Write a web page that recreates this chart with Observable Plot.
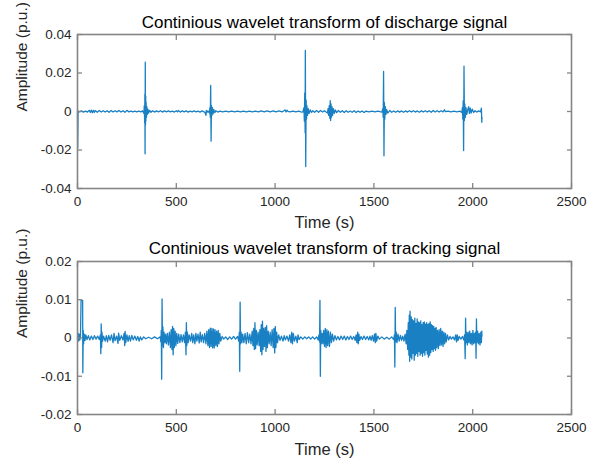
<!DOCTYPE html>
<html><head><meta charset="utf-8">
<script src="https://cdn.jsdelivr.net/npm/d3@7"></script>
<script src="https://cdn.jsdelivr.net/npm/@observablehq/plot@0.6"></script>
<style>
body{margin:0;background:#fff;}
#chart{width:596px;height:459px;}
#chart svg{display:block;}
</style></head><body><div id="chart"></div>
<script>
const timeTicks = [0, 500, 1000, 1500, 2000, 2500];
const timeTickLabels = ["0", "500", "1000", "1500", "2000", "2500"];
const dischargeTicks = [-0.04, -0.02, 0, 0.02, 0.04];
const dischargeTickLabels = ["-0.04", "-0.02", "0", "0.02", "0.04"];
const trackingTicks = [-0.02, -0.01, 0, 0.01, 0.02];
const trackingTickLabels = ["-0.02", "-0.01", "0", "0.01", "0.02"];
const panelTitles = ["Continious wavelet transform of discharge signal", "Continious wavelet transform of tracking signal"];
const xLabel = "Time (s)";
const yLabel = "Amplitude (p.u.)";

// [time (s), amplitude (p.u.)]
const dischargeSignal = [
[0,0],[1,-0.019],[3,0.0003],[10,-0.0002],[20,0.0003],[30,-0.0003],[40,0.0002],[50,-0.0003],[60,0.0006],[65,-0.0005],[70,0.0007],[75,-0.0006],[80,0.0006],[85,-0.0005],[90,0.0005],[100,-0.0004],[110,0.0005],[120,-0.0003],[130,0.0004],[140,-0.0003],[150,0.0004],[160,-0.0004],[170,0.0005],[180,-0.0003],[190,0.0004],[200,-0.0002],[210,0.0005],[220,-0.0003],[230,0.0004],[240,-0.0004],[250,0.0006],[260,-0.0002],[270,0.0002],[280,-0.0002],[290,0.0002],[300,-0.0002],[310,0.0002],[320,-0.0002],[330,0.0003],
[336,-0.001],[338,0.003],[340,-0.006],[341,0.009],[342,-0.022],[343,0.0256],[344,-0.007],[345,0.008],[346,-0.005],[347,0.005],[349,-0.003],[351,0.0025],[353,-0.0015],[356,0.0012],[360,-0.0008],[365,0.0006],[372,-0.0004],[380,0.0004],
[390,-0.0003],[400,0.0003],[410,-0.0002],[420,0.0004],[430,-0.0003],[440,0.0003],[450,-0.0002],[460,0.0003],[470,-0.0002],[480,0.0002],[490,-0.0003],[500,0.0004],[506,-0.0002],[510,0.0005],[520,-0.0003],[530,0.0003],[540,-0.0002],[550,0.0003],[560,-0.0003],[570,0.0002],[580,-0.0002],[590,0.0003],[600,-0.0002],[610,0.0002],[620,-0.0003],[630,0.0003],[640,-0.0002],
[645,-0.0004],[650,-0.002],[652,0.0006],[655,-0.0005],[660,0.0003],[668,-0.0008],[670,0.002],[672,-0.003],[674,0.0135],[676,-0.0154],[678,0.003],[680,-0.002],[683,0.002],[686,-0.0012],[690,0.001],[695,-0.0006],[700,0.0004],
[710,-0.0003],[720,0.0002],[735,-0.0002],[750,0.0002],[765,-0.0002],[780,0.0002],[795,-0.0002],[810,0.0002],[825,-0.0002],[840,0.0002],[855,-0.0002],[870,0.0002],[885,-0.0002],[900,0.0002],[915,-0.0002],[930,0.0003],[945,-0.0002],[960,0.0003],[975,-0.0002],[990,0.0003],[1005,-0.0002],[1020,0.0003],[1035,-0.0002],[1045,0.0004],
[1050,0.0008],[1056,-0.0002],[1060,0.0007],[1065,0.0001],[1075,-0.0002],[1090,0.0002],[1105,-0.0002],[1120,0.0002],[1130,-0.0002],[1140,-0.0003],
[1146,0.002],[1148,-0.005],[1150,0.0097],[1152,-0.011],[1153,0.0317],[1155,-0.0286],[1157,0.006],[1159,-0.004],[1161,0.003],[1164,-0.002],[1168,0.0015],[1172,-0.001],[1178,0.0008],[1185,-0.0005],[1190,0.0004],
[1200,-0.0004],[1210,0.0005],[1220,-0.0004],[1230,0.0005],[1240,-0.0003],[1250,0.0004],[1258,-0.0003],
[1265,-0.0008],[1268,0.0015],[1271,-0.002],[1274,0.003],[1277,-0.0035],[1279,0.0057],[1281,-0.0047],[1283,0.004],[1285,-0.003],[1288,0.0025],[1291,-0.002],[1295,0.0015],[1300,-0.001],[1305,0.0008],[1312,-0.0006],[1320,0.0005],
[1330,-0.0004],[1340,0.0004],[1350,-0.0005],[1360,0.0004],[1370,-0.0004],[1380,0.0003],[1390,-0.0004],[1400,0.0004],[1410,-0.0005],[1420,0.0003],[1430,-0.0004],[1440,0.0003],[1450,-0.0005],[1460,0.0002],[1475,-0.0002],[1490,0.0002],[1505,-0.0002],[1520,0.0002],[1535,-0.0002],[1540,-0.0003],
[1545,0.0015],[1547,-0.003],[1549,0.0208],[1551,-0.023],[1553,0.0047],[1555,-0.004],[1558,0.0025],[1561,-0.0015],[1565,0.001],[1570,-0.0008],[1580,0.0005],
[1590,-0.0004],[1600,0.0003],[1610,-0.0004],[1620,0.0003],[1630,-0.0003],[1640,0.0003],[1650,-0.0004],[1660,0.0003],[1670,-0.0003],[1680,0.0004],[1690,-0.0003],[1700,0.0004],[1710,-0.0003],[1720,0.0003],[1730,-0.0004],[1740,0.0004],[1750,-0.0003],[1760,0.0004],[1770,-0.0003],[1780,0.0004],[1790,-0.0004],[1800,0.0005],[1810,-0.0003],[1820,0.0004],[1830,-0.0003],[1840,0.0004],[1850,-0.0002],[1857,0.0009],[1862,-0.0001],[1875,0.0002],[1890,-0.0002],[1905,0.0002],[1920,-0.0002],[1935,0.0002],[1945,-0.0005],
[1948,0.002],[1950,-0.004],[1952,0.0057],[1954,-0.0203],[1956,0.0235],[1958,-0.0047],[1960,0.004],[1963,-0.003],[1966,0.002],[1970,-0.0015],[1975,0.001],[1980,0.0025],[1983,-0.001],[1988,0.0018],[1992,-0.0008],[1998,0.0012],[2005,-0.0005],[2012,0.0004],[2020,-0.0003],[2030,0.0003],[2040,-0.0002],[2044,0.0018],[2046,-0.0056],[2047,-0.003]
];

const trackingSignal = [
[0,0],[3,0.0012],[6,-0.0008],[9,0.001],[12,-0.0005],[15,0.0006],[18,0.0098],[26,0.0098],[27,-0.0091],[29,0.002],[31,-0.0015],[34,0.001],[38,-0.0006],[42,0.0008],[48,-0.0004],[55,0.0006],[62,-0.0005],[70,0.0005],[78,-0.0004],[86,0.0006],[94,-0.0003],[102,0.0005],[110,-0.0004],
[116,0.0008],[118,-0.0041],[120,0.0037],[122,-0.0025],[124,0.0015],[127,-0.0008],[132,0.0005],[140,-0.0008],[146,0.0006],[152,-0.001],[158,0.0007],[165,-0.0006],[172,0.0008],[180,-0.0012],[185,0.0012],[190,-0.0007],[198,0.0005],[205,-0.0014],[208,0.0013],[214,-0.0006],[222,0.0006],[230,-0.0005],[236,0.0012],[239,-0.002],[241,0.0017],[244,-0.0012],[250,0.0008],[256,-0.0009],[262,0.0006],[268,-0.0008],[275,0.0007],[282,-0.0005],[290,0.0005],[298,-0.0006],[305,0.0004],[312,-0.0008],[318,0.0003],[325,-0.0005],[335,0.0003],[345,-0.0002],[360,0.0002],[375,-0.0002],[390,0.0003],[405,-0.0002],[418,0.0003],
[422,-0.001],[424,0.002],[426,-0.0108],[428,0.0102],[430,-0.002],[432,0.003],[435,-0.0025],[438,0.0015],[442,-0.0012],[446,0.001],[450,-0.0015],[455,0.0012],[460,-0.0018],[465,0.0015],[470,-0.0025],[474,0.0022],[478,-0.003],[481,0.003],[484,-0.0044],[487,0.0025],[490,-0.0025],[494,0.0018],[498,-0.002],[502,0.0012],[507,-0.0014],[512,0.001],[518,-0.0012],[524,0.0009],[530,-0.001],[536,0.0008],[542,-0.0012],[546,0.0015],[549,-0.0044],[551,0.004],[553,-0.002],[556,0.0015],[560,-0.0012],[565,0.0008],[572,-0.0008],[578,0.0012],[583,-0.0012],[588,0.0008],[594,-0.0015],[599,0.0012],[604,-0.0008],[610,0.001],[616,-0.0013],[621,0.0015],[626,-0.001],[632,0.0009],[638,-0.0012],[644,0.0012],[650,-0.0015],[655,0.0018],[660,-0.002],[664,0.0022],[668,-0.0025],[672,0.0026],[676,-0.0022],[680,0.0025],[684,-0.0026],[688,0.0024],[692,-0.0026],[696,0.0022],[700,-0.002],[704,0.0018],[708,-0.0022],[712,0.002],[716,-0.0015],[720,0.0012],[725,-0.0008],[732,0.0004],[740,-0.0003],[750,0.0003],[760,-0.0004],[770,0.0003],[780,-0.0003],[790,0.0004],[800,-0.0003],[810,0.0004],
[816,-0.0008],[819,0.0015],[821,-0.0087],[823,0.0094],[825,-0.0015],[828,0.0015],[832,-0.0012],[836,0.001],[842,-0.0012],[848,0.0012],[854,-0.0015],[860,0.0014],[866,-0.0012],[872,0.001],[878,-0.0015],[884,0.0018],[888,-0.002],[892,0.0025],[895,-0.003],[898,0.004],[901,-0.0028],[905,0.002],[909,-0.0018],[914,0.0015],[919,-0.002],[923,0.0022],[927,-0.0035],[930,0.0035],[933,-0.0044],[936,0.0044],[939,-0.003],[942,0.0025],[946,-0.0022],[950,0.0028],[954,-0.0035],[957,0.0032],[961,-0.0025],[965,0.0018],[970,-0.0015],[975,0.0015],[980,-0.002],[985,0.0022],[990,-0.0025],[994,0.0025],[998,-0.0039],[1001,0.003],[1004,-0.0025],[1008,0.0015],[1012,-0.0012],[1018,0.0008],[1025,-0.0006],[1032,0.0005],[1040,-0.0008],[1046,0.0006],[1052,-0.0005],[1060,0.0005],[1068,-0.0008],[1074,0.0008],[1080,-0.0012],[1084,0.0015],[1088,-0.0015],[1092,0.0012],[1098,-0.0008],[1105,0.0005],[1112,-0.0012],[1116,0.0008],[1122,-0.0004],[1130,0.0003],[1140,-0.0003],[1150,0.0003],[1160,-0.0002],[1170,0.0003],[1180,-0.0003],[1190,0.0003],[1200,-0.0003],[1210,0.0003],[1218,-0.0005],
[1222,0.0008],[1225,-0.001],[1227,0.0098],[1229,-0.01],[1231,0.002],[1234,-0.0015],[1238,0.0012],[1242,-0.0015],[1246,0.002],[1250,-0.0022],[1254,0.0025],[1258,-0.0025],[1262,0.0022],[1266,-0.002],[1270,0.0018],[1275,-0.0022],[1280,0.0015],[1285,-0.0012],[1290,0.001],[1296,-0.0008],[1303,0.0006],[1310,-0.0005],[1318,0.0004],[1326,-0.0005],[1334,0.0005],[1342,-0.0004],[1350,0.0005],[1358,-0.0005],[1366,0.0004],[1374,-0.0004],[1382,0.0005],[1390,-0.0004],[1398,0.0004],[1405,-0.0006],[1410,0.0008],[1414,-0.0012],[1418,0.0015],[1421,-0.0015],[1424,0.001],[1428,-0.0006],[1435,0.0004],[1442,-0.0004],[1450,0.0005],[1458,-0.0004],[1466,0.0004],[1474,-0.0005],[1480,0.0005],[1486,-0.0006],[1492,0.0006],[1498,-0.0008],[1503,0.001],[1507,-0.0012],[1510,0.0012],[1514,-0.0008],[1520,0.0005],[1528,-0.0003],[1540,0.0003],[1552,-0.0003],[1565,0.0002],[1578,-0.0003],[1590,0.0003],[1600,-0.0004],
[1604,0.0008],[1606,-0.0076],[1608,0.008],[1610,-0.001],[1613,0.0015],[1617,-0.0012],[1622,0.001],[1628,-0.0008],[1634,0.0007],[1640,-0.0006],[1646,0.0005],[1652,-0.0008],[1658,0.001],[1663,-0.0015],[1667,0.002],[1671,-0.003],[1674,0.004],[1677,-0.0045],[1679,0.006],[1681,-0.0061],[1683,0.007],[1686,-0.005],[1689,0.0055],[1692,-0.0055],[1695,0.0048],[1698,-0.004],[1701,0.0045],[1704,-0.0058],[1707,0.0052],[1710,-0.0045],[1713,0.0038],[1716,-0.004],[1719,0.005],[1722,-0.0048],[1725,0.0042],[1728,-0.0035],[1731,0.004],[1734,-0.0045],[1737,0.0045],[1740,-0.004],[1743,0.0035],[1746,-0.0048],[1749,0.004],[1752,-0.0038],[1755,0.0042],[1758,-0.0045],[1761,0.0036],[1764,-0.0032],[1767,0.004],[1770,-0.0042],[1773,0.0035],[1776,-0.005],[1779,0.0038],[1782,-0.0045],[1785,0.0042],[1788,-0.0038],[1791,0.0035],[1794,-0.003],[1797,0.0032],[1800,-0.0035],[1803,0.003],[1806,-0.0028],[1809,0.0025],[1812,-0.0032],[1815,0.0028],[1818,-0.0025],[1822,0.002],[1826,-0.0028],[1830,0.0022],[1834,-0.002],[1838,0.0025],[1842,-0.0018],[1846,0.0018],[1850,-0.0022],[1854,0.0015],[1858,-0.0015],[1862,0.0012],[1866,-0.001],[1872,0.0008],[1878,-0.0005],[1885,0.0004],[1892,-0.0003],[1900,0.0003],[1908,-0.0005],[1914,0.0008],[1918,-0.001],[1922,0.0008],[1926,-0.0006],[1932,0.0004],[1940,-0.0003],[1948,0.0004],[1955,-0.0005],
[1959,0.0008],[1962,-0.0054],[1964,0.0052],[1966,-0.0012],[1969,0.0015],[1973,-0.0018],[1977,0.0015],[1981,-0.0012],[1985,0.0018],[1989,-0.0015],[1993,0.0012],[1997,-0.0018],[2001,0.002],[2005,-0.0015],[2009,0.0012],[2012,-0.0012],[2015,0.0015],[2017,-0.0053],[2019,0.005],[2021,-0.0012],[2025,0.0018],[2029,-0.0015],[2033,0.0012],[2037,-0.0018],[2041,0.0015],[2044,-0.0012],[2046,0.0018],[2047,0.0005]
];

const FONT = "'Liberation Sans', Arial, Helvetica, sans-serif";
const AXIS = "#858585";
const TEXT = "#262626";

function panel({signal, yDomain, yTicks, yTickLabels, title, height, marginTop, marginBottom, titleDy, xLabelDy}) {
  const data = signal.map(([t, v]) => ({t, v}));
  return Plot.plot({
    width: 596, height, marginLeft: 77, marginRight: 25, marginTop, marginBottom,
    style: {fontFamily: FONT, fontSize: "13px", color: TEXT, background: "#fff", overflow: "visible"},
    x: {domain: [0, 2500]},
    y: {domain: yDomain},
    marks: [
      Plot.line(data, {x: "t", y: "v", stroke: "#0072BD", strokeWidth: 1.3, strokeOpacity: 0.9}),
      Plot.frame({stroke: AXIS, strokeWidth: 1.6}),
      Plot.axisX(timeTicks, {anchor: "bottom", tickSize: -5, fill: "none", stroke: AXIS, strokeWidth: 1.3, label: null}),
      Plot.axisX(timeTicks, {anchor: "top", tickSize: -5, fill: "none", stroke: AXIS, strokeWidth: 1.3, label: null}),
      Plot.axisY(yTicks, {anchor: "left", tickSize: -5, fill: "none", stroke: AXIS, strokeWidth: 1.3, label: null}),
      Plot.axisY(yTicks, {anchor: "right", tickSize: -5, fill: "none", stroke: AXIS, strokeWidth: 1.3, label: null}),
      Plot.axisX(timeTicks, {anchor: "bottom", tickSize: 0, tickPadding: 8, fill: TEXT, fontSize: 13.5, label: null,
        tickFormat: d => timeTickLabels[timeTicks.indexOf(d)]}),
      Plot.axisY(yTicks, {anchor: "left", tickSize: 0, tickPadding: 6, fill: TEXT, fontSize: 13.5, label: null,
        tickFormat: d => yTickLabels[yTicks.indexOf(d)]}),
      Plot.text([xLabel], {frameAnchor: "bottom", dy: xLabelDy, fontSize: 16.5, fill: TEXT}),
      Plot.text([yLabel], {frameAnchor: "left", dx: -55, rotate: -90, fontSize: 15.5, fill: TEXT}),
      Plot.text([title], {frameAnchor: "top", dy: titleDy, fontSize: 17, fill: "#000"})
    ]
  });
}

const chart = document.getElementById("chart");
chart.append(panel({signal: dischargeSignal, yDomain: [-0.04, 0.04], yTicks: dischargeTicks, yTickLabels: dischargeTickLabels,
  title: panelTitles[0], height: 230, marginTop: 34, marginBottom: 42, titleDy: -19, xLabelDy: 39}));
chart.append(panel({signal: trackingSignal, yDomain: [-0.02, 0.02], yTicks: trackingTicks, yTickLabels: trackingTickLabels,
  title: panelTitles[1], height: 229, marginTop: 31, marginBottom: 45, titleDy: -20, xLabelDy: 40}));
</script>
</body></html>
